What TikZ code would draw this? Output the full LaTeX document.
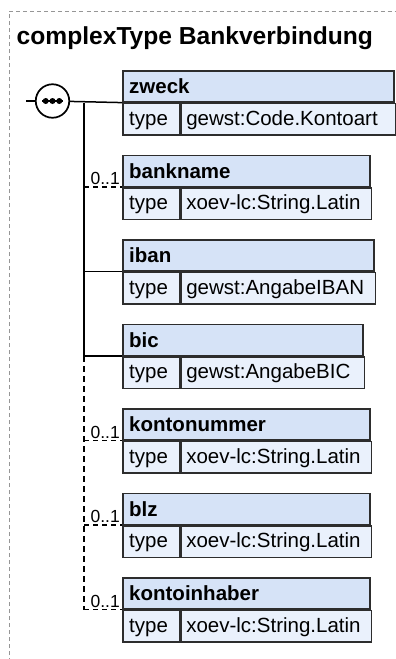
\documentclass[tikz,border=0pt]{standalone}
\usepackage{fontspec}
\setmainfont{Liberation Sans}
\usetikzlibrary{calc}
\definecolor{hdrc}{RGB}{214,227,247}
\definecolor{rowc}{RGB}{234,241,252}
\definecolor{bordc}{RGB}{45,45,45}
\definecolor{framec}{RGB}{150,150,150}
\newcommand{\xelem}[6]{% name, top, total width, label, value width, type
  \node[hdr, minimum width=#3pt] (#1) at (122,#2) {};
  \node[lblb] (#1L) at ($(#1.west)+(7,7.5)$) {#4};
  \node[typecell] (#1t) at (#1.south west) {};
  \node[lbl] (#1tL) at ($(#1t.west)+(7,6)$) {type};
  \node[valcell, minimum width=#5pt] (#1v) at (#1t.north east) {};
  \node[lbl] (#1vL) at ($(#1v.west)+(5.5,6)$) {#6};
}
\begin{document}
\begin{tikzpicture}[x=1pt,y=-1pt,
  cell/.style={draw=bordc, line width=1.6pt, inner sep=0pt, anchor=north west},
  hdr/.style={cell, fill=hdrc, minimum height=31pt},
  typecell/.style={cell, fill=rowc, minimum height=31.5pt, minimum width=57pt},
  valcell/.style={cell, fill=rowc, minimum height=31.5pt},
  lbl/.style={inner sep=0pt, anchor=base west, font=\fontsize{20.5}{24}\selectfont},
  lblb/.style={lbl, font=\fontsize{20.5}{24}\selectfont\bfseries},
  conn/.style={line width=1.5pt, draw=black},
  spineline/.style={line width=1.9pt, draw=black},
  opt/.style={line width=1.5pt, draw=black, dash pattern=on 5pt off 4pt},
  optspine/.style={line width=1.9pt, draw=black, dash pattern=on 6pt off 4pt},
  card/.style={font=\fontsize{17.5}{20}\selectfont, inner sep=0pt, anchor=south east},
]
\useasboundingbox (0,0) rectangle (396,659);
\draw[framec, line width=0.8pt, dash pattern=on 4pt off 3pt] (9,662) -- (9,11.5) -- (399,11.5);
\node[anchor=base west, font=\fontsize{24.6}{28}\selectfont\bfseries, inner sep=0pt] (title) at (16.5,44) {complexType Bankverbindung};

\xelem{zweck}{70}{271}{zweck}{214}{gewst:Code.Kontoart}
\xelem{bankname}{154.5}{247}{bankname}{190}{xoev-lc:String.Latin}
\xelem{iban}{239}{251}{iban}{194}{gewst:AngabeIBAN}
\xelem{bic}{323.5}{240}{bic}{183}{gewst:AngabeBIC}
\xelem{kontonummer}{408}{247}{kontonummer}{190}{xoev-lc:String.Latin}
\xelem{blz}{492.5}{247}{blz}{190}{xoev-lc:String.Latin}
\xelem{kontoinhaber}{577}{247}{kontoinhaber}{190}{xoev-lc:String.Latin}

% sequence compositor
\node[draw=black, circle, line width=1.7pt, minimum size=33.5pt, inner sep=0pt, fill=white] (seq) at (52.5,101) {};
\draw[line width=1.4pt] ($(seq.center)+(-10.5,0)$) -- ($(seq.center)+(10.5,0)$);
\foreach \dx in {-6.8,0,6.8} \fill ($(seq.center)+(\dx,0)$) circle (3);
\coordinate (start) at (26,101);
\coordinate (spine) at (84,0);
\draw[conn] (start) -- (seq);
\draw[conn] (seq) -- (zweck.south west);

% spine
\draw[spineline] (spine |- zweck.south west) -- (spine |- bic.south west);
\draw[optspine] (spine |- bic.south west) -- (spine |- kontoinhaber.south west);

% branches
\draw[opt] (spine |- bankname.south west) -- (bankname.south west);
\draw[conn] (spine |- iban.south west) -- (iban.south west);
\draw[conn] (spine |- bic.south west) -- (bic.south west);
\draw[opt] (spine |- kontonummer.south west) -- (kontonummer.south west);
\draw[opt] (spine |- blz.south west) -- (blz.south west);
\draw[opt] (spine |- kontoinhaber.south west) -- (kontoinhaber.south west);

% cardinalities
\node[card] (c1) at ($(bankname.south west)+(-2,-2)$) {0..1};
\node[card] (c2) at ($(kontonummer.south west)+(-2,-2)$) {0..1};
\node[card] (c3) at ($(blz.south west)+(-2,-2)$) {0..1};
\node[card] (c4) at ($(kontoinhaber.south west)+(-2,-2)$) {0..1};
\end{tikzpicture}
\end{document}
